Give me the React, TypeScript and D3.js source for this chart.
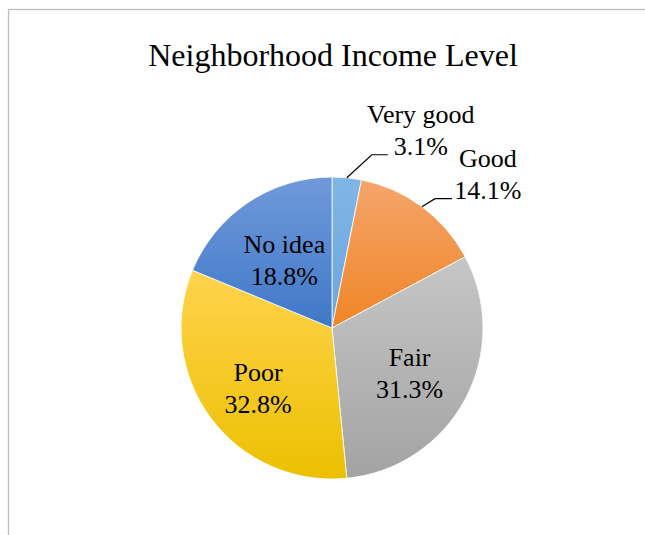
import React from "react";
import * as d3 from "d3";

const categories = ["Very good", "Good", "Fair", "Poor", "No idea"];
const values = [2, 9, 20, 21, 12];
const percentLabels = ["3.1%", "14.1%", "31.3%", "32.8%", "18.8%"];
const colorsTop = ["#80b6e6", "#f5a56c", "#c6c6c6", "#ffd34d", "#7099da"];
const colorsBottom = ["#6aa6e0", "#ef8526", "#a3a3a3", "#ecc000", "#3f78c8"];
const outside = [true, true, false, false, false];
const labelRadiusFactor = [0, 0, 0.59, 0.61, 0.52];
// style nudges for label placement (px)
const labelNudgeX = [0, 0, -1, 0, -4];
const labelNudgeY = [0, 0, 2, 4, -4];
const kneeDX = [25, 13, 0, 0, 0];
const kneeDY = [-23, -8, 0, 0, 0];
const hookLen = [16, 17, 0, 0, 0];
const textDX = [33, 36, 0, 0, 0];

const W = 645;
const H = 535;
const cx = 332;
const cy = 328;
const R = 151;
const FONT = "'Liberation Serif', 'Times New Roman', serif";

export default function App() {
  const pie = d3.pie<number>().sort(null).value((d) => d)(values);
  const arc = d3.arc<d3.PieArcDatum<number>>().innerRadius(0).outerRadius(R);

  return (
    <svg
      width={W}
      height={H}
      style={{ position: "absolute", left: 0, top: 0 }}
    >
      <defs>
        {categories.map((c, i) => (
          <linearGradient key={c} id={`g${i}`} x1="0" y1="0" x2="0" y2="1">
            <stop offset="0" stopColor={colorsTop[i]} />
            <stop offset="1" stopColor={colorsBottom[i]} />
          </linearGradient>
        ))}
      </defs>
      <rect x={8.5} y={9.5} width={660} height={600} fill="#fff" stroke="#bdbdbd" strokeWidth={1.3} />
      <text
        x={333}
        y={66}
        textAnchor="middle"
        fontFamily={FONT}
        fontSize={32}
        fill="#000"
      >
        Neighborhood Income Level
      </text>
      <g transform={`translate(${cx},${cy})`}>
        {pie.map((p, i) => (
          <path
            key={categories[i]}
            d={arc(p) || ""}
            fill={`url(#g${i})`}
            stroke="#fff"
            strokeWidth={0.8}
          />
        ))}
        {pie.map((p, i) => {
          const mid = (p.startAngle + p.endAngle) / 2;
          if (outside[i]) {
            const ex = R * Math.sin(mid);
            const ey = -R * Math.cos(mid);
            const kx = ex + kneeDX[i];
            const ky = ey + kneeDY[i];
            const hx = kx + hookLen[i];
            const tx = hx + textDX[i];
            return (
              <g key={categories[i]}>
                <polyline
                  points={`${ex},${ey} ${kx},${ky} ${hx},${ky}`}
                  fill="none"
                  stroke="#000"
                  strokeWidth={1.2}
                />
                <text
                  textAnchor="middle"
                  fontFamily={FONT}
                  fontSize={26}
                  fill="#000"
                >
                  <tspan x={tx} y={ky - 32}>
                    {categories[i]}
                  </tspan>
                  <tspan x={tx} y={ky + 0.5}>
                    {percentLabels[i]}
                  </tspan>
                </text>
              </g>
            );
          }
          const lr = R * labelRadiusFactor[i];
          const lx = lr * Math.sin(mid) + labelNudgeX[i];
          const ly = -lr * Math.cos(mid) + labelNudgeY[i];
          return (
            <text
              key={categories[i]}
              textAnchor="middle"
              fontFamily={FONT}
              fontSize={26}
              fill="#000"
            >
              <tspan x={lx} y={ly - 6}>
                {categories[i]}
              </tspan>
              <tspan x={lx} y={ly + 26}>
                {percentLabels[i]}
              </tspan>
            </text>
          );
        })}
      </g>
    </svg>
  );
}
